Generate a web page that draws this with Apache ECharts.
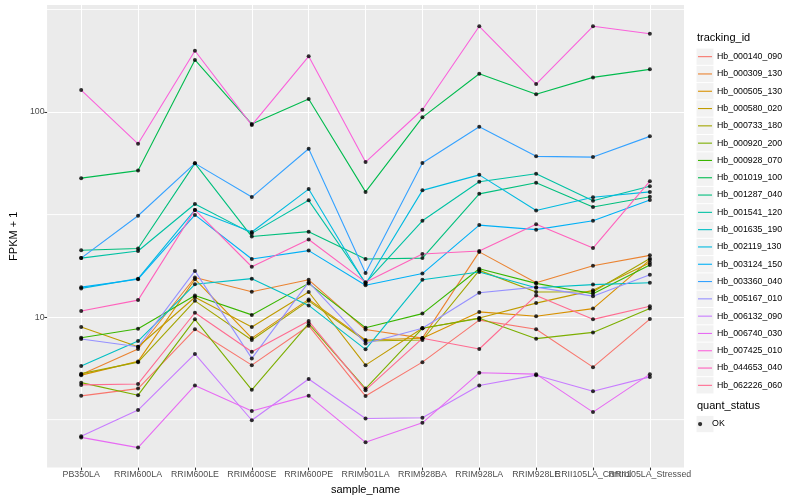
<!DOCTYPE html>
<html><head><meta charset="utf-8">
<script src="https://cdn.jsdelivr.net/npm/echarts@6/dist/echarts.min.js"></script>
<style>html,body{margin:0;padding:0;background:#fff}#c{width:800px;height:500px}</style>
</head><body><div id="c"></div>
<script>
const categories = ['PB350LA','RRIM600LA','RRIM600LE','RRIM600SE','RRIM600PE','RRIM901LA','RRIM928BA','RRIM928LA','RRIM928LE','RRII105LA_Control','RRII105LA_Stressed'];
const yTickValues = [10, 100];
const yMinorValues = [3.162, 31.62, 316.2];

const Hb_000140_090 = [4.13, 4.48, 8.72, 5.83, 9.08, 4.12, 6.03, 9.67, 8.72, 5.70, 9.78];
const Hb_000309_130 = [5.25, 6.99, 15.6, 13.3, 15.2, 8.7, 7.9, 20.8, 14.7, 17.8, 20.0];
const Hb_000505_130 = [5.21, 6.08, 15.3, 7.9, 12.2, 7.73, 7.88, 10.6, 10.1, 11.0, 19.0];
const Hb_000580_020 = [8.95, 7.17, 12.5, 8.95, 13.25, 5.83, 8.82, 9.89, 11.7, 13.5, 18.4];
const Hb_000733_180 = [5.3, 6.03, 12.0, 7.73, 12.0, 7.64, 7.73, 16.9, 13.25, 13.3, 19.3];
const Hb_000920_200 = [4.79, 4.16, 9.75, 4.42, 9.3, 4.48, 8.82, 9.86, 7.85, 8.42, 11.0];
const Hb_000928_070 = [7.93, 8.78, 12.75, 10.25, 14.6, 8.88, 10.4, 17.2, 14.6, 13.0, 17.95];
const Hb_001019_100 = [47.6, 51.8, 179.5, 87.4, 115.7, 40.8, 94.2, 153.8, 122, 147.6, 161.5];
const Hb_001287_040 = [21.2, 21.6, 56.2, 24.7, 26.1, 19.2, 19.4, 39.9, 45.2, 34.4, 38.6];
const Hb_001541_120 = [19.4, 21.0, 35.6, 25.6, 37.1, 14.7, 29.5, 45.7, 50.0, 36.9, 43.5];
const Hb_001635_190 = [5.77, 7.64, 14.45, 15.4, 11.4, 6.96, 15.2, 16.6, 13.9, 14.4, 14.7];
const Hb_002119_130 = [13.8, 15.4, 33.3, 26.0, 42.1, 14.5, 41.5, 49.4, 33.1, 38.4, 40.8];
const Hb_003124_150 = [14.0, 15.3, 31.5, 19.2, 21.1, 14.3, 16.3, 28.1, 26.7, 29.5, 37.2];
const Hb_003360_040 = [19.4, 31.2, 56.2, 38.5, 66.2, 16.4, 56.4, 84.8, 60.8, 60.3, 76.1];
const Hb_005167_010 = [7.82, 7.17, 16.8, 6.29, 14.8, 7.44, 8.82, 13.15, 14.0, 12.65, 16.1];
const Hb_006132_090 = [2.62, 3.52, 6.61, 3.14, 4.99, 3.20, 3.23, 4.64, 5.21, 4.35, 5.11];
const Hb_006740_030 = [2.59, 2.31, 4.64, 3.48, 4.14, 2.45, 3.05, 5.35, 5.27, 3.44, 5.27];
const Hb_007425_010 = [128, 70.0, 199, 86.4, 187, 57.0, 102.6, 262, 137, 262, 241];
const Hb_044653_040 = [10.7, 12.1, 33.3, 17.6, 23.9, 14.8, 20.3, 21.0, 28.4, 21.7, 46.0];
const Hb_062226_060 = [4.67, 4.72, 10.5, 6.78, 9.56, 4.40, 7.88, 6.99, 12.76, 9.75, 11.3];

const seriesNames = ['Hb_000140_090','Hb_000309_130','Hb_000505_130','Hb_000580_020','Hb_000733_180','Hb_000920_200','Hb_000928_070','Hb_001019_100','Hb_001287_040','Hb_001541_120','Hb_001635_190','Hb_002119_130','Hb_003124_150','Hb_003360_040','Hb_005167_010','Hb_006132_090','Hb_006740_030','Hb_007425_010','Hb_044653_040','Hb_062226_060'];
const seriesValues = [Hb_000140_090,Hb_000309_130,Hb_000505_130,Hb_000580_020,Hb_000733_180,Hb_000920_200,Hb_000928_070,Hb_001019_100,Hb_001287_040,Hb_001541_120,Hb_001635_190,Hb_002119_130,Hb_003124_150,Hb_003360_040,Hb_005167_010,Hb_006132_090,Hb_006740_030,Hb_007425_010,Hb_044653_040,Hb_062226_060];
const palette = ['#F8766D','#EA8331','#D89000','#C09B00','#A3A500','#7CAE00','#39B600','#00BB4E','#00BF7D','#00C1A3','#00BFC4','#00BAE0','#00B0F6','#35A2FF','#9590FF','#C77CFF','#E76BF3','#FA62DB','#FF62BC','#FF6C91'];
const statusName = 'OK';

const FONT = '"Liberation Sans", Arial, Helvetica, sans-serif';
const xTicks = categories.map((c, i) => i + 1);
const xTicksOdd = xTicks.filter(v => v % 2 === 1);
const xTicksEven = xTicks.filter(v => v % 2 === 0);

// legend layout constants
const LEG_LEFT = 698, LEG_TOP = 48, LEG_STEP = 17.3, OK_TOP = 415.4;

const chart = echarts.init(document.getElementById('c'), null, {renderer: 'canvas'});

const series = [];
// minor grid lines (ggplot's log-scale minor breaks), drawn as thin white lines under the data
yMinorValues.forEach((v, k) => {
  series.push({
    name: '_minor' + k, type: 'line', z: 1, silent: true, symbol: 'none', showSymbol: false,
    data: [[0.4, v], [11.6, v]],
    lineStyle: {color: '#ffffff', width: 0.9},
    itemStyle: {color: '#ffffff'},
    emphasis: {disabled: true}
  });
});
seriesNames.forEach((n, i) => {
  series.push({
    name: n, type: 'line', z: 2, showSymbol: false, symbol: 'none',
    data: seriesValues[i].map((v, j) => [j + 1, v]),
    lineStyle: {color: palette[i], width: 1.1},
    itemStyle: {color: palette[i]},
    emphasis: {disabled: true}, silent: true
  });
});
const allPoints = [];
seriesValues.forEach(arr => arr.forEach((v, j) => allPoints.push([j + 1, v])));
series.push({
  name: statusName, type: 'scatter', z: 3, symbol: 'circle', symbolSize: 4,
  data: allPoints, itemStyle: {color: '#000000'}, emphasis: {disabled: true}, silent: true
});

// grey legend key backgrounds (ggplot style)
const keyRects = seriesNames.map((n, i) => ({
  type: 'rect', z: 0, silent: true,
  shape: {x: LEG_LEFT - 1.5, y: LEG_TOP + i * LEG_STEP + 0.5, width: 17, height: LEG_STEP - 1},
  style: {fill: '#F2F2F2'}
}));
keyRects.push({
  type: 'rect', z: 0, silent: true,
  shape: {x: LEG_LEFT - 1.5, y: OK_TOP + 0.5, width: 17, height: LEG_STEP - 1},
  style: {fill: '#F2F2F2'}
});

const labelStyle = {fontSize: 8.8, color: '#4D4D4D', margin: 2.5, fontFamily: FONT, hideOverlap: false};
const tickStyle = {length: 2.75, lineStyle: {color: '#333333', width: 1.07}};

const option = {
  animation: false,
  graphic: keyRects,
  title: [
    {text: 'tracking_id', left: 697, top: 32, padding: 0, textStyle: {fontSize: 11, fontWeight: 'normal', color: '#000', fontFamily: FONT}},
    {text: 'quant_status', left: 697, top: 400, padding: 0, textStyle: {fontSize: 11, fontWeight: 'normal', color: '#000', fontFamily: FONT}}
  ],
  grid: {left: 40, right: 116, top: 5, bottom: 31.5, show: true, backgroundColor: '#EBEBEB', borderWidth: 0, containLabel: false},
  xAxis: [
    {
      type: 'value', min: 0.4, max: 11.6, position: 'bottom',
      name: 'sample_name', nameLocation: 'middle', nameGap: 13.5,
      nameTextStyle: {fontSize: 11, color: '#000', fontFamily: FONT},
      axisLine: {show: false},
      axisTick: Object.assign({show: true, customValues: xTicks}, tickStyle),
      axisLabel: Object.assign({customValues: xTicksOdd, formatter: v => categories[Math.round(v) - 1]}, labelStyle),
      splitLine: {show: true, lineStyle: {color: '#ffffff', width: 1.07}}
    },
    {
      type: 'value', min: 0.4, max: 11.6, position: 'bottom', offset: 0,
      axisLine: {show: false},
      axisTick: {show: false, customValues: xTicksEven},
      axisLabel: Object.assign({customValues: xTicksEven, formatter: v => categories[Math.round(v) - 1]}, labelStyle),
      splitLine: {show: false}
    }
  ],
  yAxis: {
    type: 'log', logBase: 10, min: 1.845, max: 332.7,
    name: 'FPKM + 1', nameLocation: 'middle', nameGap: 22.5,
    nameTextStyle: {fontSize: 11, color: '#000', fontFamily: FONT},
    axisLine: {show: false},
    axisTick: Object.assign({show: true, customValues: yTickValues}, tickStyle),
    axisLabel: Object.assign({customValues: yTickValues}, labelStyle),
    splitLine: {show: true, lineStyle: {color: '#ffffff', width: 1.07}}
  },
  legend: [
    {
      orient: 'vertical', left: LEG_LEFT, top: LEG_TOP, padding: 0, itemGap: 0,
      itemWidth: 14, itemHeight: 1.1, icon: 'rect', selectedMode: false,
      textStyle: {fontSize: 8.8, color: '#000', lineHeight: LEG_STEP, fontFamily: FONT},
      data: seriesNames
    },
    {
      orient: 'vertical', left: LEG_LEFT, top: OK_TOP, padding: 0, itemGap: 0,
      itemWidth: 14, itemHeight: 4.2, icon: 'circle', selectedMode: false,
      textStyle: {fontSize: 8.8, color: '#000', lineHeight: LEG_STEP, fontFamily: FONT},
      data: [statusName]
    }
  ],
  series: series
};
chart.setOption(option);
</script></body></html>
